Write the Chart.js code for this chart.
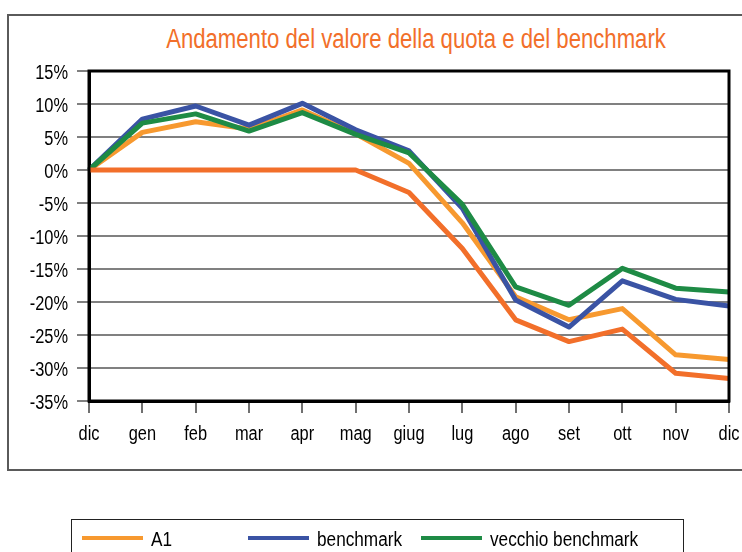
<!DOCTYPE html>
<html>
<head>
<meta charset="utf-8">
<script src="https://cdn.jsdelivr.net/npm/chart.js@4/dist/chart.umd.min.js"></script>
<style>
  html, body { margin: 0; padding: 0; background: #fff; }
  #wrap { position: relative; width: 742px; height: 552px; overflow: hidden; background: #fff;
          font-family: 'Liberation Sans Narrow', 'Arial Narrow', 'Liberation Sans', Arial, sans-serif; }
  #frame { position: absolute; left: 7px; top: 14px; width: 800px; height: 457px; border: 2px solid #5a5a5a; box-sizing: border-box; }
  #title { position: absolute; left: 0; width: 832px; top: 22px; text-align: center; color: #F26F2A; font-size: 27px; line-height: 34px; white-space: nowrap; transform: scaleX(0.82); transform-origin: 416px 0; }
  #chart { position: absolute; left: 0; top: 0; }
  #legend { position: absolute; left: 71px; top: 519px; width: 613px; height: 60px; border: 1.5px solid #222; box-sizing: border-box; }
  .li { position: absolute; top: 0; height: 36px; }
  .sw { position: absolute; top: 15.5px; height: 4px; width: 61px; }
  .lt { position: absolute; top: 7px; font-size: 20px; line-height: 24px; color: #000; white-space: nowrap; transform: scaleX(0.86); transform-origin: 0 0; }
</style>
</head>
<body>
<div id="wrap">
  <div id="frame"></div>
  <div id="title">Andamento del valore della quota e del benchmark</div>
  <canvas id="chart" width="742" height="552"></canvas>
  <div id="legend"></div>
</div>
<script>
const categories = ['dic','gen','feb','mar','apr','mag','giug','lug','ago','set','ott','nov','dic'];
const seriesA1 = [0, 5.7, 7.3, 6.2, 9.1, 5.5, 1.0, -8.0, -19.2, -22.7, -21.0, -28.0, -28.7];
const seriesBenchmark = [0, 7.7, 9.7, 6.8, 10.1, 6.1, 2.9, -5.8, -19.7, -23.8, -16.8, -19.6, -20.6];
const seriesVecchio = [0, 7.1, 8.5, 5.9, 8.7, 5.4, 2.6, -5.2, -17.7, -20.5, -14.9, -17.9, -18.5];
const seriesQuarta = [0, 0, 0, 0, 0, 0, -3.4, -11.9, -22.7, -26.0, -24.1, -30.8, -31.6];
const seriesNames = ['A1', 'benchmark', 'vecchio benchmark', 'serie 4'];
const yMin = -35, yMax = 15, yStep = 5;

const FONT = "'Liberation Sans Narrow', 'Arial Narrow', 'Liberation Sans', Arial, sans-serif";
const colors = ['#F7992F', '#3A53A4', '#1E8B45', '#F26F2A'];
const NARROW = 0.82;

const mk = (i, data, order) => ({
  label: seriesNames[i], data, borderColor: colors[i], backgroundColor: colors[i],
  borderWidth: 5, pointRadius: 0, pointHoverRadius: 0, tension: 0, fill: false,
  borderJoinStyle: 'round', order
});

// plot border + condensed tick labels positioned through the chart's own scales
const framePlugin = {
  id: 'framePlugin',
  afterDatasetsDraw(chart) {
    const {ctx, chartArea: a} = chart;
    ctx.save();
    ctx.strokeStyle = '#000';
    ctx.lineWidth = 3;
    ctx.strokeRect(a.left, a.top, a.right - a.left, a.bottom - a.top);
    ctx.restore();
  },
  afterDraw(chart) {
    const {ctx, chartArea: a} = chart;
    const xs = chart.scales.x, ys = chart.scales.y;
    ctx.save();
    ctx.font = '20px ' + FONT;
    ctx.fillStyle = '#000';
    ctx.textBaseline = 'alphabetic';
    ctx.textAlign = 'center';
    xs.ticks.forEach((t, i) => {
      const x = xs.getPixelForTick(i);
      const label = xs.getLabelForValue(t.value);
      ctx.save();
      ctx.translate(x, a.bottom + 39);
      ctx.scale(NARROW, 1);
      ctx.fillText(label, 0, 0);
      ctx.restore();
    });
    ctx.textAlign = 'right';
    ys.ticks.forEach(t => {
      const y = ys.getPixelForValue(t.value);
      ctx.save();
      ctx.translate(a.left - 21, y + 8);
      ctx.scale(NARROW, 1);
      ctx.fillText(t.value + '%', 0, 0);
      ctx.restore();
    });
    ctx.restore();
  }
};

new Chart(document.getElementById('chart'), {
  type: 'line',
  data: {
    labels: categories,
    datasets: [
      mk(0, seriesA1, 3),
      mk(1, seriesBenchmark, 2),
      mk(2, seriesVecchio, 1),
      mk(3, seriesQuarta, 0)
    ]
  },
  options: {
    responsive: false,
    animation: false,
    events: [],
    layout: { padding: { left: 0, top: 71, right: 13, bottom: 0 } },
    plugins: { legend: { display: false }, title: { display: false }, tooltip: { enabled: false } },
    scales: {
      x: {
        type: 'category',
        offset: false,
        afterFit(s) { s.height = 151; s.paddingLeft = 0; s.paddingRight = 0; },
        grid: { drawOnChartArea: false, drawTicks: true, tickLength: 12, color: '#707070', lineWidth: 2 },
        border: { display: true, color: '#000', width: 3 },
        ticks: { display: false, padding: 0, maxRotation: 0, autoSkip: false }
      },
      y: {
        min: yMin, max: yMax,
        afterFit(s) { s.width = 89; s.paddingTop = 0; s.paddingBottom = 0; },
        grid: { color: '#808080', lineWidth: 2, tickLength: 12, drawTicks: true },
        border: { display: true, color: '#000', width: 3 },
        ticks: { display: false, stepSize: yStep, padding: 0 }
      }
    }
  },
  plugins: [framePlugin]
});

// HTML legend built from the dataset names and colours
const legend = document.getElementById('legend');
const legendX = [10, 175.5, 349];
[0, 1, 2].forEach((i, k) => {
  const item = document.createElement('div');
  item.className = 'li';
  item.style.left = legendX[k] + 'px';
  const sw = document.createElement('div');
  sw.className = 'sw';
  sw.style.background = colors[i];
  const t = document.createElement('div');
  t.className = 'lt';
  t.style.left = '69px';
  t.textContent = seriesNames[i];
  item.appendChild(sw); item.appendChild(t);
  legend.appendChild(item);
});
</script>
</body>
</html>
